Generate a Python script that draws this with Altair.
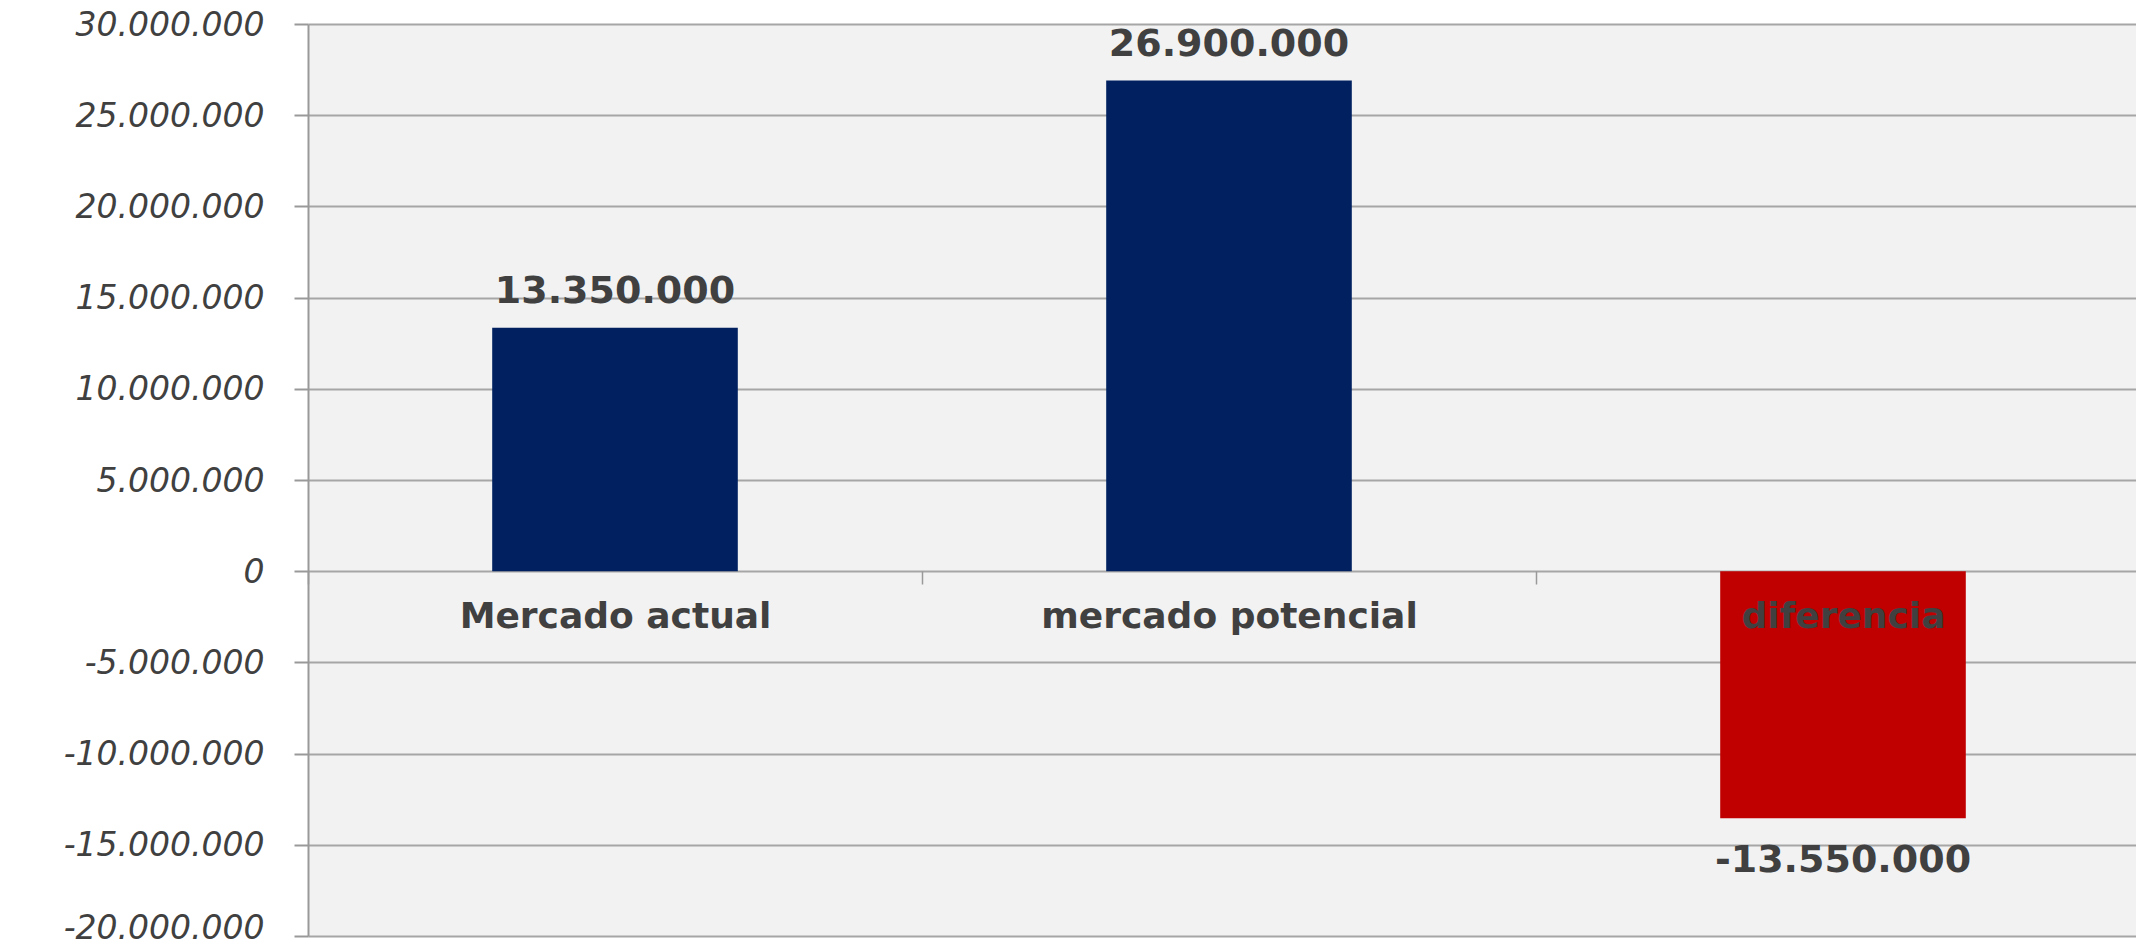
import altair as alt
import pandas as pd

categories = ["Mercado actual", "mercado potencial", "diferencia"]
values = [13350000, 26900000, -13550000]
y_ticks = [30000000, 25000000, 20000000, 15000000, 10000000, 5000000, 0,
           -5000000, -10000000, -15000000, -20000000]

df = pd.DataFrame({"cat": categories, "val": values})

FONT = "DejaVu Sans"
TXT = "#404040"
GRID = "#A6A6A6"

x_enc = alt.X(
    "cat:N",
    sort=categories,
    scale=alt.Scale(range=[0, 1842], paddingInner=0, paddingOuter=0),
    axis=alt.Axis(
        title=None,
        orient="bottom",
        offset=-365,
        labelAngle=0,
        labelFont=FONT,
        labelFontSize=36,
        labelFontWeight="bold",
        labelColor=TXT,
        labelPadding=15,
        labelLimit=0,
        tickBand="extent",
        tickSize=13,
        tickColor="#999999",
        tickWidth=1.5,
        domain=False,
        grid=False,
        zindex=1,
    ),
)

y_enc = alt.Y(
    "val:Q",
    scale=alt.Scale(domain=[-20000000, 30000000], nice=False, zero=False),
    axis=alt.Axis(
        title=None,
        values=y_ticks,
        format=",d",
        labelFont=FONT,
        labelFontSize=33,
        labelFontStyle="italic",
        labelColor=TXT,
        labelPadding=30,
        labelLimit=0,
        labelOffset={"condition": {"test": "datum.value <= -20000000", "value": -8},
                     "value": 1},
        tickSize=14,
        tickColor="#999999",
        tickWidth=2,
        domainColor="#999999",
        domainWidth=2,
        gridColor=GRID,
        gridWidth=2,
    ),
)

base = alt.Chart(df)

bars = base.mark_bar(width=alt.RelativeBandSize(0.4)).encode(
    x=x_enc,
    y=y_enc,
    color=alt.condition(alt.datum.val < 0, alt.value("#C00000"), alt.value("#002060")),
)

pos_labels = base.transform_filter(alt.datum.val >= 0).mark_text(
    font=FONT, fontSize=38, fontWeight="bold", color=TXT, baseline="alphabetic", dy=-25
).encode(
    x=alt.X("cat:N", sort=categories),
    y="val:Q",
    text=alt.Text("val:Q", format=",d"),
)

neg_labels = base.transform_filter(alt.datum.val < 0).mark_text(
    font=FONT, fontSize=38, fontWeight="bold", color=TXT, baseline="alphabetic", dy=54
).encode(
    x=alt.X("cat:N", sort=categories),
    y="val:Q",
    text=alt.Text("val:Q", format=",d"),
)

chart = (
    alt.layer(bars, pos_labels, neg_labels)
    .properties(
        width=1828,
        height=912,
        autosize=alt.AutoSizeParams(type="none"),
        padding={"left": 300, "top": 16, "right": 0, "bottom": 8},
        background="white",
        view=alt.ViewBackground(fill="#F2F2F2", stroke=None),
    )
    .configure(locale={"number": {"decimal": ",", "thousands": ".", "grouping": [3],
                                  "currency": ["", ""], "minus": "-"}})
)

chart.save("out.html", embed_options={"renderer": "svg", "actions": False})
